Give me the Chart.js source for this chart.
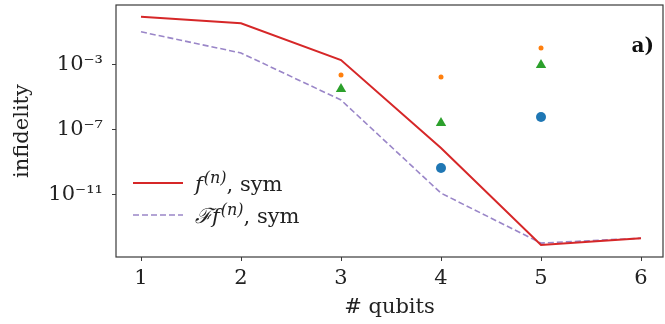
<!DOCTYPE html>
<html><head><meta charset="utf-8">
<script src="https://cdn.jsdelivr.net/npm/chart.js@4.4.0/dist/chart.umd.min.js"></script>
<style>html,body{margin:0;padding:0;background:#fff;}</style>
</head><body>
<canvas id="c" width="665" height="324" style="width:665px;height:324px;display:block"></canvas>
<script>
// ---- data ----
const qubits = [1, 2, 3, 4, 5, 6];
const fSym = [0.93, 0.37, 2.0e-3, 7.9e-9, 8.3e-15, 2.2e-14];
const FfSym = [0.11, 5.5e-3, 7.0e-6, 1.3e-11, 1.1e-14, 2.2e-14];
const orangeQubits = [3, 4, 5];
const orangeVals = [2.4e-4, 1.8e-4, 1.1e-2];
const greenQubits = [3, 4, 5];
const greenVals = [3.3e-5, 2.7e-7, 1.0e-3];
const blueQubits = [4, 5];
const blueVals = [4.6e-10, 6.3e-7];
const xTickVals = [1, 2, 3, 4, 5, 6];
const yTickVals = [1e-3, 1e-7, 1e-11];
const yTickLabels = ['10\u207B\u00B3', '10\u207B\u2077', '10\u207B\u00B9\u00B9'];
const legendLabels = ['sym', 'sym'];

const pts = (xs, ys) => xs.map((x, i) => ({x: x, y: ys[i]}));
const FONT = 'DejaVu Serif';
const FS = 21;
const TXT = '#222';

const overlay = {
  id: 'overlay',
  afterDraw(chart) {
    const ctx = chart.ctx, a = chart.chartArea;
    ctx.save();
    ctx.strokeStyle = '#3a3a3a';
    ctx.lineWidth = 1.2;
    ctx.strokeRect(a.left, a.top, a.right - a.left, a.bottom - a.top);
    // legend
    const lx0 = 133, lx1 = 183, tx = 195;
    const rows = [
      {y: 183, color: '#d62728', dash: [], pre: ''},
      {y: 215, color: '#9a86c8', dash: [6, 3], pre: '\u2131'}
    ];
    rows.forEach((r, i) => {
      ctx.beginPath();
      ctx.setLineDash(r.dash);
      ctx.strokeStyle = r.color;
      ctx.lineWidth = r.dash.length ? 1.6 : 2;
      ctx.moveTo(lx0, r.y); ctx.lineTo(lx1, r.y); ctx.stroke();
      ctx.setLineDash([]);
      ctx.fillStyle = TXT;
      ctx.textBaseline = 'alphabetic';
      ctx.textAlign = 'left';
      let x = tx; const base = r.y + 8;
      if (r.pre) {
        ctx.font = 'italic ' + FS + 'px ' + FONT;
        ctx.fillText(r.pre, x, base); x += ctx.measureText(r.pre).width;
      }
      ctx.font = 'italic ' + FS + 'px ' + FONT;
      ctx.fillText('f', x, base); x += ctx.measureText('f').width + 1;
      ctx.font = 'italic 16px ' + FONT;
      ctx.fillText('(n)', x, base - 8); x += ctx.measureText('(n)').width;
      ctx.font = FS + 'px ' + FONT;
      ctx.fillText(', ' + legendLabels[i], x, base);
    });
    // panel label
    ctx.font = 'bold 20px ' + FONT;
    ctx.textAlign = 'right';
    ctx.fillStyle = '#111';
    ctx.fillText('a)', 654, 52);
    ctx.restore();
  }
};

new Chart(document.getElementById('c'), {
  data: {
    datasets: [
      {type: 'line', label: 'f(n), sym', data: pts(qubits, fSym), borderColor: '#d62728', borderWidth: 2, pointRadius: 0, tension: 0, order: 5},
      {type: 'line', label: 'Ff(n), sym', data: pts(qubits, FfSym), borderColor: '#9a86c8', borderWidth: 1.6, borderDash: [6, 3], pointRadius: 0, tension: 0, order: 6},
      {type: 'scatter', label: 'orange', data: pts(orangeQubits, orangeVals), backgroundColor: '#ff7f0e', borderColor: '#ff7f0e', pointRadius: 2.5, borderWidth: 0, order: 1},
      {type: 'scatter', label: 'green', data: pts(greenQubits, greenVals), backgroundColor: '#2ca02c', borderColor: '#2ca02c', pointStyle: 'triangle', pointRadius: 6, borderWidth: 0, order: 2},
      {type: 'scatter', label: 'blue', data: pts(blueQubits, blueVals), backgroundColor: '#1f77b4', borderColor: '#1f77b4', pointRadius: 5, borderWidth: 0, order: 3}
    ]
  },
  options: {
    responsive: false,
    animation: false,
    devicePixelRatio: 1,
    layout: {autoPadding: false, padding: {top: 5, right: 2, left: 0, bottom: 0}},
    plugins: {legend: {display: false}, tooltip: {enabled: false}},
    scales: {
      x: {
        type: 'linear', min: 0.75, max: 6.22,
        afterBuildTicks: s => { s.ticks = xTickVals.map(v => ({value: v})); },
        afterFit: s => { s.height = 67; s.paddingLeft = 0; s.paddingRight = 0; },
        ticks: {font: {family: FONT, size: FS}, color: TXT, padding: 5, callback: v => String(v)},
        grid: {drawOnChartArea: false, drawTicks: true, tickLength: 4, color: '#3a3a3a'},
        border: {display: false},
        title: {display: true, text: '# qubits', font: {family: FONT, size: FS}, color: TXT, padding: {top: 0, bottom: 4}}
      },
      y: {
        type: 'logarithmic', min: 1.53e-15, max: 4.92,
        afterBuildTicks: s => { s.ticks = yTickVals.map(v => ({value: v})); },
        afterFit: s => { s.width = 116; s.paddingTop = 0; s.paddingBottom = 0; },
        ticks: {font: {family: FONT, size: FS}, color: TXT, padding: 9,
          callback: (v, i) => yTickLabels[i]},
        grid: {drawOnChartArea: false, drawTicks: true, tickLength: 4, color: '#3a3a3a'},
        border: {display: false},
        title: {display: true, text: 'infidelity', font: {family: FONT, size: FS}, color: TXT, padding: {top: 10, bottom: 0}}
      }
    }
  },
  plugins: [overlay]
});
</script>
</body></html>
